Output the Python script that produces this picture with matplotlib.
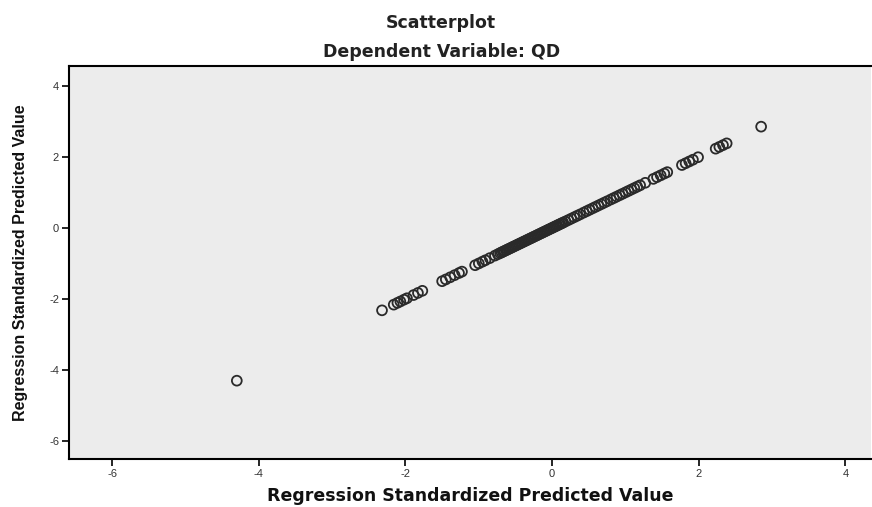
"""
SPSS-style residual check: standardized predicted value plotted against itself.
"""

import matplotlib.pyplot as plt

plt.rcParams['axes.unicode_minus'] = False

# standardized predicted values (x and y are the same variable)
pred = [-4.30,
        -2.32, -2.16, -2.11, -2.07, -2.02, -1.98, -1.89, -1.83, -1.77,
        -1.50, -1.45, -1.39, -1.33, -1.27, -1.23,
        -1.05, -1.00, -0.95, -0.91, -0.85, -0.78, -0.74,
        -0.71, -0.69, -0.67, -0.65, -0.63, -0.61, -0.59, -0.57, -0.55, -0.53,
        -0.51, -0.49, -0.47, -0.45, -0.43, -0.41, -0.39, -0.37, -0.35, -0.33,
        -0.31, -0.29, -0.27, -0.25, -0.23, -0.21, -0.19, -0.17, -0.15, -0.13,
        -0.11, -0.09, -0.07, -0.05, -0.03, -0.01, 0.01, 0.03, 0.05, 0.07,
        0.09, 0.11, 0.13, 0.15, 0.18,
        0.22, 0.26, 0.30, 0.34, 0.38, 0.43, 0.47, 0.51, 0.55, 0.59, 0.63,
        0.67, 0.71, 0.75, 0.80, 0.84, 0.88, 0.92, 0.96, 1.00, 1.04, 1.08,
        1.12, 1.16, 1.20, 1.27,
        1.38, 1.43, 1.48, 1.53, 1.57,
        1.77, 1.82, 1.87, 1.92, 1.99,
        2.23, 2.28, 2.33, 2.38,
        2.85]
ticks = [-6, -4, -2, 0, 2, 4]
title = 'Scatterplot'
subtitle = 'Dependent Variable: QD'
axis_label = 'Regression Standardized Predicted Value'

WIDE = ['DejaVu Sans']
NARROW = ['Liberation Sans', 'DejaVu Sans']

fig = plt.figure(figsize=(8.72, 5.07), dpi=100)
ax = fig.add_axes([0.079, 0.095, 0.92, 0.775])
ax.set_facecolor('#ececec')

ax.scatter(pred, pred, s=50, facecolors='none', edgecolors='#2a2a2a', linewidths=1.3, zorder=3)

ax.set_xlim(-6.59, 4.35)
ax.set_ylim(-6.5, 4.56)
ax.set_xticks(ticks)
ax.set_yticks(ticks)
ax.tick_params(direction='out', length=5, width=1.2, labelsize=8, labelcolor='#333333', pad=2)
for lab in ax.get_xticklabels() + ax.get_yticklabels():
    lab.set_family(NARROW)
for side in ('left', 'bottom', 'top'):
    ax.spines[side].set_linewidth(1.5)
ax.spines['right'].set_visible(False)

ax.set_xlabel(axis_label, fontsize=12.5, fontweight='bold', family=WIDE, labelpad=6, color='#111111')
ax.set_ylabel(axis_label, fontsize=11.5, fontweight='bold', family=NARROW, labelpad=15, color='#111111')

fig.text(0.506, 0.955, title, ha='center', va='center', fontsize=12.5, fontweight='bold',
         family=WIDE, color='#222222')
fig.text(0.506, 0.897, subtitle, ha='center', va='center', fontsize=12.5, fontweight='bold',
         family=WIDE, color='#222222')

plt.savefig('out.png', dpi=100)
